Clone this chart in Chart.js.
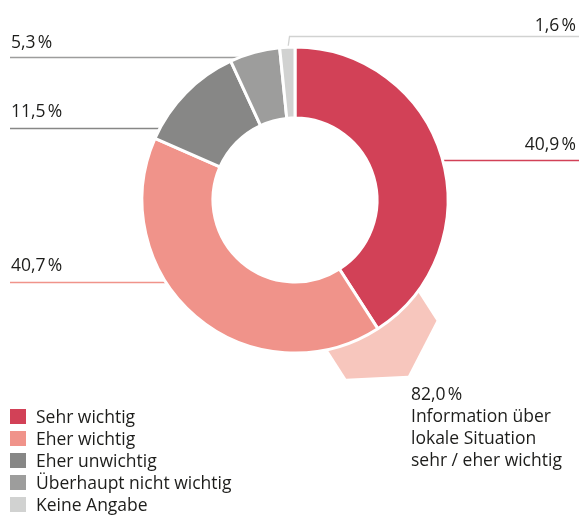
<!DOCTYPE html>
<html lang="de">
<head>
<meta charset="utf-8">
<script src="https://cdn.jsdelivr.net/npm/chart.js@4/dist/chart.umd.min.js"></script>
<style>
    html, body { margin: 0; padding: 0; background: #fff; }
    #wrap { position: relative; width: 579px; height: 515px; overflow: hidden;
            font-family: "Open Sans", "Noto Sans", sans-serif; color: #1d1d1b; }
    #chart { position: absolute; left: 0; top: 0; }
    .lbl { position: absolute; font-size: 17.5px; line-height: 20px; white-space: nowrap; transform: translateY(-50%); }
    .lbl.right { text-align: right; }
    #legend { position: absolute; left: 10px; top: 405px; font-size: 17.5px; }
    #legend div { height: 22px; line-height: 22px; display: flex; align-items: center; }
    #legend span.sw { width: 16px; height: 15px; margin-right: 10px; display: inline-block; }
    #callout { position: absolute; left: 411px; top: 382px; font-size: 17.5px; line-height: 22px; }
</style>
</head>
<body>
<div id="wrap">
    <canvas id="chart" width="579" height="515"></canvas>
    <div id="legend"></div>
    <div id="callout"></div>
</div>
<script>
/* ---------- Data ---------- */
const categories = ['Sehr wichtig', 'Eher wichtig', 'Eher unwichtig', 'Überhaupt nicht wichtig', 'Keine Angabe'];
const shares = [40.9, 40.7, 11.5, 5.3, 1.6];
const colors = ['#d24157', '#f0938a', '#878786', '#9d9d9c', '#d1d2d1'];
const calloutColor = '#f7c6bd';
const calloutValue = 82.0;
const calloutLines = ['Information über', 'lokale Situation', 'sehr / eher wichtig'];

// label placement per slice: side, text y, leader y
const labelSide = ['right', 'left', 'left', 'left', 'right'];
const labelTextY = [143, 264, 110, 41, 24];
const labelLineY = [160.5, 282.5, 128.5, 57.5, 36.5];

/* ---------- Helpers ---------- */
function fmt(v) {
    return v.toFixed(1).replace('.', ',') + '\u202F%';
}

/* ---------- Decorations drawn under the ring ---------- */
const underRing = {
    id: 'underRing',
    beforeDatasetsDraw(chart) {
        const ctx = chart.ctx;
        const arcs = chart.getDatasetMeta(0).data;
        const cx = arcs[0].x, cy = arcs[0].y;
        const R = arcs[0].outerRadius;

        // hexagon callout at the boundary between the two "wichtig" slices
        const a = arcs[0].endAngle;
        const hc = R - 6, hr = 62;
        const hx = cx + hc * Math.cos(a), hy = cy + hc * Math.sin(a);
        ctx.save();
        ctx.fillStyle = calloutColor;
        ctx.beginPath();
        for (let k = 0; k < 6; k++) {
            const t = a + k * Math.PI / 3;
            const px = hx + hr * Math.cos(t), py = hy + hr * Math.sin(t);
            if (k === 0) ctx.moveTo(px, py); else ctx.lineTo(px, py);
        }
        ctx.closePath();
        ctx.fill();

        // leader lines
        ctx.lineWidth = 1.3;
        arcs.forEach((arc, i) => {
            const ly = labelLineY[i];
            const dy = ly - cy;
            ctx.strokeStyle = colors[i];
            ctx.beginPath();
            if (i === 4) {
                const mid = (arc.startAngle + arc.endAngle) / 2;
                const px = cx + (R - 4) * Math.cos(mid), py = cy + (R - 4) * Math.sin(mid);
                ctx.moveTo(px, py);
                ctx.lineTo(px + 2, ly);
                ctx.lineTo(chart.width, ly);
            } else if (labelSide[i] === 'left') {
                const ex = cx - Math.sqrt(Math.max(R * R - dy * dy, 0)) + 4;
                ctx.moveTo(10, ly);
                ctx.lineTo(ex, ly);
            } else {
                const ex = cx + Math.sqrt(Math.max(R * R - dy * dy, 0)) - 4;
                ctx.moveTo(ex, ly);
                ctx.lineTo(chart.width, ly);
            }
            ctx.stroke();
        });
        ctx.restore();
    }
};

/* ---------- Chart ---------- */
const chart = new Chart(document.getElementById('chart'), {
    type: 'doughnut',
    data: {
        labels: categories,
        datasets: [{
            data: shares,
            backgroundColor: colors,
            borderColor: '#ffffff',
            borderWidth: 3,
            hoverOffset: 0
        }]
    },
    options: {
        responsive: false,
        animation: false,
        radius: 153,
        cutout: '53.6%',
        layout: { padding: { left: 11, right: 0, top: 0, bottom: 115 } },
        plugins: {
            legend: { display: false },
            tooltip: { enabled: false }
        }
    },
    plugins: [underRing]
});

/* ---------- Text (HTML) ---------- */
const wrap = document.getElementById('wrap');
shares.forEach((v, i) => {
    const d = document.createElement('div');
    d.className = 'lbl' + (labelSide[i] === 'right' ? ' right' : '');
    d.textContent = fmt(v);
    d.style.top = labelTextY[i] + 'px';
    if (labelSide[i] === 'right') d.style.right = '3px';
    else d.style.left = '11px';
    wrap.appendChild(d);
});

document.getElementById('legend').innerHTML = categories.map((c, i) =>
    `<div><span class="sw" style="background:${colors[i]}"></span>${c}</div>`).join('');

document.getElementById('callout').innerHTML =
    [fmt(calloutValue)].concat(calloutLines).map(t => `<div>${t}</div>`).join('');
</script>
</body>
</html>
